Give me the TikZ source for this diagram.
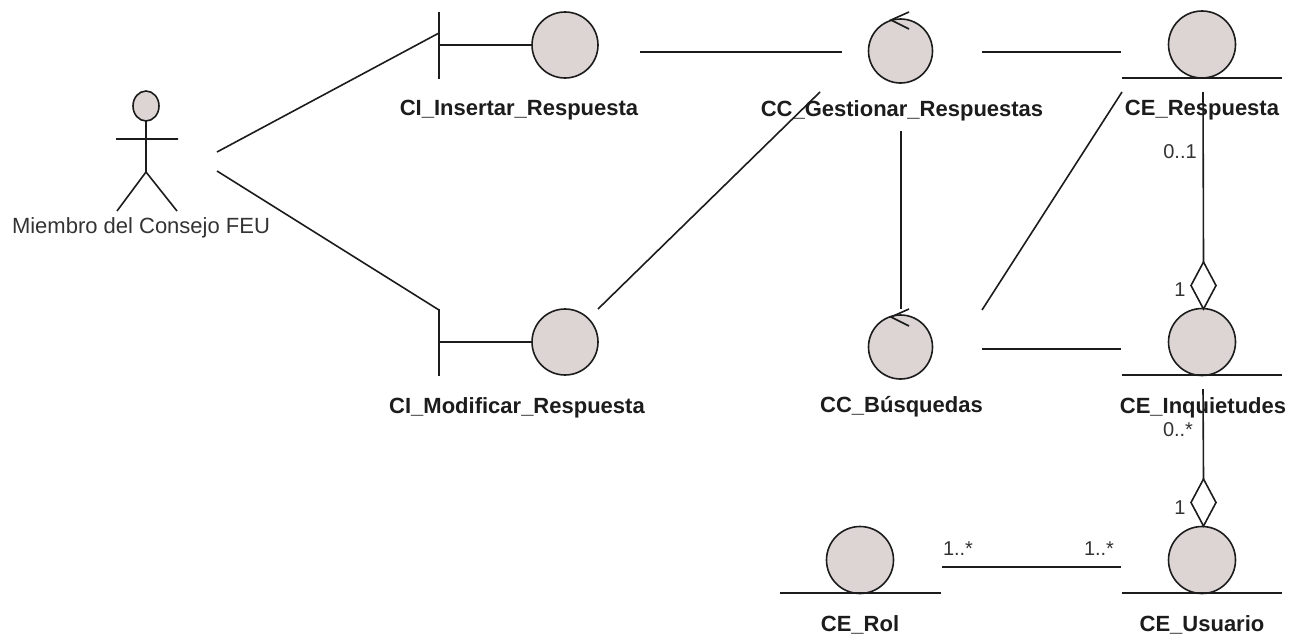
\documentclass[tikz,border=0pt]{standalone}
\usepackage{fontspec}
\setmainfont{Liberation Sans}
\usetikzlibrary{shapes.geometric}
\definecolor{umlfill}{HTML}{DDD4D4}
\definecolor{umlink}{HTML}{1C1C1C}
\tikzset{
  ln/.style={draw=umlink,line width=1.6pt},
  glyph/.style={ellipse,draw=umlink,fill=umlfill,line width=1.6pt,inner sep=0pt,outer sep=0pt,minimum width=#1,minimum height=#1},
  glyph/.default=66pt,
  namelabel/.style={font=\fontsize{22}{24}\selectfont\bfseries,text=umlink,inner sep=0pt,anchor=center},
  plainlabel/.style={font=\fontsize{22}{24}\selectfont,text=umlink!90!white,inner sep=0pt,anchor=center},
  multlabel/.style={font=\fontsize{20}{22}\selectfont,text=umlink!90!white,inner sep=0pt,anchor=center},
  aggr/.style={diamond,draw=umlink,fill=white,line width=1.6pt,inner sep=0pt,outer sep=0pt,minimum width=25pt,minimum height=47pt,aspect=0.55},
}
\begin{document}
\begin{tikzpicture}[x=1pt,y=-1pt]
\useasboundingbox (0,0) rectangle (1300,637);
% actor
\node[glyph=1pt,minimum width=26pt,minimum height=30pt] (acthead) at (146,106) {};
\coordinate (actbody) at (146,172);
\coordinate (armL) at (116,139);
\coordinate (armR) at (178,139);
\coordinate (legL) at (117,211);
\coordinate (legR) at (177,211);
\draw[ln] (acthead.south) -- (actbody) (armL) -- (armR) (legL) -- (actbody) -- (legR);
\node[plainlabel] (actlabel) at (141,228) {Miembro del Consejo FEU};
% boundaries
\node[glyph] (ci1) at (565,45) {};
\coordinate (bar1t) at (439,12); \coordinate (bar1b) at (439,79); \coordinate (bar1m) at (439,45);
\draw[ln] (bar1t) -- (bar1b) (bar1m) -- (ci1.west);
\node[namelabel] (ci1l) at (519,110.5) {CI\_Insertar\_Respuesta};
\node[glyph] (ci2) at (565,342) {};
\coordinate (bar2t) at (439,309); \coordinate (bar2b) at (439,376); \coordinate (bar2m) at (439,342);
\draw[ln] (bar2t) -- (bar2b) (bar2m) -- (ci2.west);
\node[namelabel] (ci2l) at (517,407.5) {CI\_Modificar\_Respuesta};
% controls
\node[glyph=64pt] (cc1) at (900.5,51) {};
\coordinate (cc1tip) at (891,20); \coordinate (cc1a) at (909,12); \coordinate (cc1b) at (909,29);
\draw[ln] (cc1a) -- (cc1tip) -- (cc1b);
\node[namelabel] (cc1l) at (902,110.5) {CC\_Gestionar\_Respuestas};
\node[glyph=64pt] (cc2) at (900.5,347) {};
\coordinate (cc2tip) at (891,317); \coordinate (cc2a) at (909,309); \coordinate (cc2b) at (909,326);
\draw[ln] (cc2a) -- (cc2tip) -- (cc2b);
\node[namelabel] (cc2l) at (901.5,406.5) {CC\_Búsquedas};
% entities
\node[glyph=67pt] (ce1) at (1202,44.5) {};
\coordinate (b1l) at (1122,78); \coordinate (b1r) at (1282,78);
\draw[ln] (b1l) -- (b1r);
\node[namelabel] (ce1l) at (1202,110.5) {CE\_Respuesta};
\node[glyph=67pt] (ce2) at (1202,342) {};
\coordinate (b2l) at (1122,375); \coordinate (b2r) at (1282,375);
\draw[ln] (b2l) -- (b2r);
\node[namelabel] (ce2l) at (1203,407.5) {CE\_Inquietudes};
\node[glyph=67pt] (ce3) at (1202,560) {};
\coordinate (b3l) at (1122,593); \coordinate (b3r) at (1282,593);
\draw[ln] (b3l) -- (b3r);
\node[namelabel] (ce3l) at (1202,624.5) {CE\_Usuario};
\node[glyph=67pt] (ce4) at (860,560) {};
\coordinate (b4l) at (780,593); \coordinate (b4r) at (941,593);
\draw[ln] (b4l) -- (b4r);
\node[namelabel] (ce4l) at (860,624.5) {CE\_Rol};
% connector ends
\coordinate (a1) at (217,152); \coordinate (a1e) at (439,33);
\coordinate (a2) at (217,171); \coordinate (a2e) at (439,310);
\coordinate (c1) at (640,52); \coordinate (c1e) at (842,52);
\coordinate (c2) at (598,309); \coordinate (c2e) at (820,92);
\coordinate (c3) at (982,52); \coordinate (c3e) at (1121,52);
\coordinate (c4) at (901,131); \coordinate (c4e) at (901,309);
\coordinate (c5) at (1122,92); \coordinate (c5e) at (982,310);
\coordinate (c6) at (982,349); \coordinate (c6e) at (1121,349);
\coordinate (c7) at (942,567); \coordinate (c7e) at (1121,567);
\coordinate (d1s) at (1203,92);
\coordinate (d2s) at (1203,389);
\draw[ln] (a1) -- (a1e);
\draw[ln] (a2) -- (a2e);
\draw[ln] (c1) -- (c1e);
\draw[ln] (c2) -- (c2e);
\draw[ln] (c3) -- (c3e);
\draw[ln] (c4) -- (c4e);
\draw[ln] (c5) -- (c5e);
\draw[ln] (c6) -- (c6e);
\draw[ln] (c7) -- (c7e);
% aggregations
\node[aggr] (ag1) at (1203.5,285.5) {};
\node[aggr] (ag2) at (1203.5,502.5) {};
\draw[ln] (d1s) -- (ag1.north);
\draw[ln] (d2s) -- (ag2.north);
% multiplicities
\node[multlabel] (m1) at (1180,151.5) {0..1};
\node[multlabel] (m2) at (1180,289.5) {1};
\node[multlabel] (m3) at (1178,429.5) {0..*};
\node[multlabel] (m4) at (1180,507.5) {1};
\node[multlabel] (m5) at (958,548.5) {1..*};
\node[multlabel] (m6) at (1099,548.5) {1..*};
\end{tikzpicture}
\end{document}
